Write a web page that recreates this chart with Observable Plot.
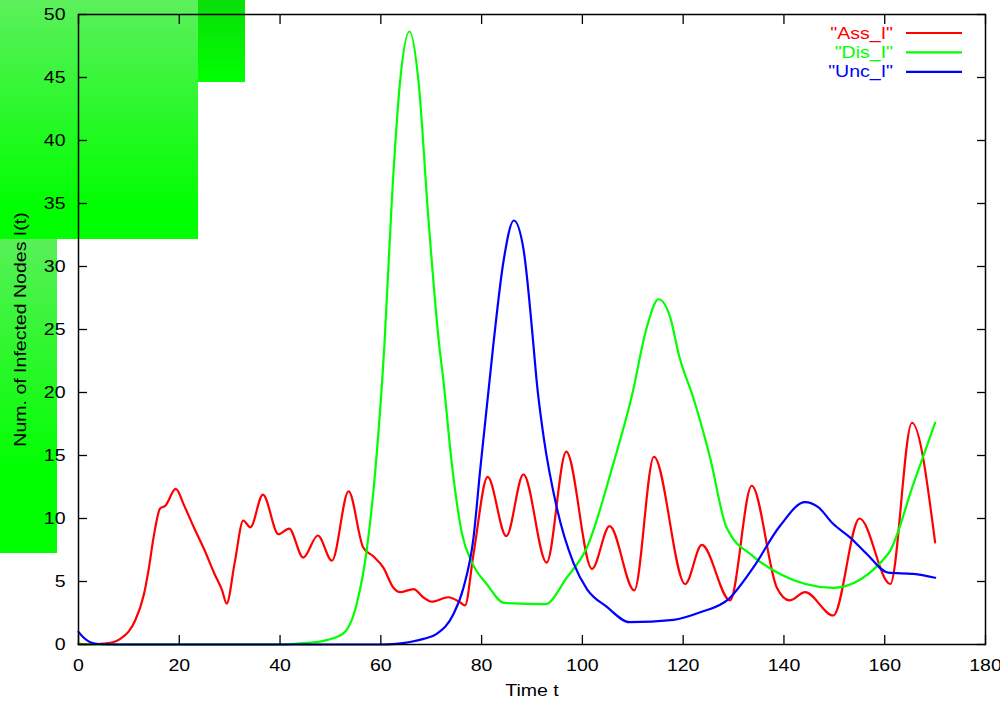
<!DOCTYPE html>
<html>
<head>
<meta charset="utf-8">
<script src="https://cdn.jsdelivr.net/npm/d3@7"></script>
<script src="https://cdn.jsdelivr.net/npm/@observablehq/plot@0.6"></script>
<style>
  html, body { margin: 0; padding: 0; background: white; }
  #wrap { position: relative; width: 1000px; height: 702px; overflow: hidden; font-family: "Liberation Sans", Arial, sans-serif; }
  .blk { position: absolute; }
  #chart { position: absolute; left: 0; top: 0; }
  #legend { position: absolute; left: 0; top: 0; width: 1000px; height: 100px; pointer-events: none; }
</style>
</head>
<body>
<div id="wrap">
  <div class="blk" style="left:0;top:0;width:198px;height:239px;background:linear-gradient(#5cf05c,#00ff00 88%);"></div>
  <div class="blk" style="left:198px;top:0;width:47px;height:82px;background:linear-gradient(#0ade0a,#00ff00);"></div>
  <div class="blk" style="left:0;top:239px;width:57px;height:314px;background:linear-gradient(#58f058,#00ff00 75%);"></div>
  <div id="chart"></div>
  <div id="legend"></div>
</div>
<script>
// ---- data ----
const seriesNames = ['"Ass_I"', '"Dis_I"', '"Unc_I"'];
const seriesColors = ["#ff0000", "#00ff00", "#0000ff"];

const assT = [0,3,5,7,8.3,9.9,11.25,13,13.9,14.9,16.2,17.2,19.3,21,23,25,27,28.5,29.4,31,32.7,34.1,36.6,39.7,41.8,44.6,47.5,50.3,53.6,56.5,58.5,60.5,62.5,63.8,66.5,68.4,70.1,73.4,75.7,76.7,78.4,81.2,84.9,88.3,92.9,96.8,101.9,105.4,110.3,114.2,120.4,123.7,129.3,133.6,138.6,141.1,144.2,149.8,155.0,161.1,165.4,170];
const assI = [0.05,0.02,0.08,0.2,0.45,1.0,1.9,4,5.9,8.5,10.8,11.0,12.35,11,9.2,7.5,5.6,4.3,3.25,6.5,9.84,9.3,11.9,8.75,9.2,6.9,8.65,6.65,12.15,7.7,7.0,6.1,4.5,4.15,4.4,3.75,3.4,3.75,3.35,3.1,7.2,13.3,8.6,13.5,6.5,15.3,6.0,9.4,4.3,14.9,4.8,7.9,3.5,12.6,4.5,3.5,4.15,2.3,10.0,4.8,17.6,8.1];

const disT = [0,40,42.7,46,49.3,52.6,55.2,57.2,58.9,60.7,62.2,63.8,65.7,67.5,69.4,71.6,72.4,74.1,76.1,78.1,81,84.5,92.6,96.9,100.9,106.1,109.8,112.8,115.1,117.4,119.2,122,125.3,128.6,133.9,139.2,149.8,160.7,165.7,170];
const disI = [0,0,0.05,0.15,0.35,0.9,3.2,7.5,13.8,23.7,35.4,44.6,48.65,44.6,34,23.7,21,14.3,8.8,6.5,4.8,3.3,3.2,5.3,7.7,14.3,19.7,25.2,27.4,26,22.9,19.6,14.9,9.3,7.0,5.6,4.5,7.2,12.75,17.6];

const uncT = [0,1,2,3,5,10,60,63,65.8,68.5,71.1,74.4,76.4,78.4,79.7,82.3,84.3,86.4,88.3,90.3,90.9,92.3,94.9,98.2,100.9,104.8,109.4,118.1,123.4,129,133.9,139.2,144.2,146.8,149.7,153.1,156.4,160.7,165.7,170];
const uncI = [1.0,0.55,0.25,0.1,0.02,0,0,0.05,0.2,0.45,0.85,2.4,4.5,8.5,13.8,23.7,30.3,33.65,31.4,23.7,21,16.5,10.9,6.5,4.4,3.0,1.77,1.96,2.56,3.6,6.1,9.4,11.3,10.9,9.6,8.5,7.2,5.7,5.6,5.3];

const xTicks = [0,20,40,60,80,100,120,140,160,180];
const yTicks = [0,5,10,15,20,25,30,35,40,45,50];
const xLabel = "Time t";
const yLabel = "Num. of Infected Nodes I(t)";

// ---- build ----
const series = [
  assT.map((t, i) => ({t, v: assI[i]})),
  disT.map((t, i) => ({t, v: disI[i]})),
  uncT.map((t, i) => ({t, v: uncI[i]}))
];

const blank = () => "";
const chart = Plot.plot({
  width: 1000,
  height: 702,
  marginLeft: 78,
  marginRight: 15,
  marginTop: 14,
  marginBottom: 58,
  x: {domain: [0, 180]},
  y: {domain: [0, 50]},
  style: {fontFamily: "'Liberation Sans', Arial, sans-serif", fontSize: "16px", background: "transparent", overflow: "visible", color: "black"},
  marks: [
    ...series.map((s, i) => Plot.line(s, {x: "t", y: "v", stroke: seriesColors[i], strokeWidth: 2.2, curve: "monotone-x"})),
    Plot.frame({stroke: "black", strokeWidth: 1.5}),
    Plot.axisX(xTicks, {anchor: "bottom", tickSize: -9, tickFormat: blank, label: null, strokeWidth: 1.3}),
    Plot.axisX(xTicks, {anchor: "top", tickSize: -9, tickFormat: blank, label: null, strokeWidth: 1.3}),
    Plot.axisY(yTicks, {anchor: "left", tickSize: -9, tickFormat: blank, label: null, strokeWidth: 1.3}),
    Plot.axisY(yTicks, {anchor: "right", tickSize: -9, tickFormat: blank, label: null, strokeWidth: 1.3}),
    Plot.axisX(xTicks, {anchor: "bottom", tickSize: 0, tickPadding: 15, label: null, fontSize: 16}),
    Plot.axisY(yTicks, {anchor: "left", tickSize: 0, tickPadding: 13, label: null, fontSize: 16}),
    Plot.text([xLabel], {frameAnchor: "bottom", dy: 51, fontSize: 16, fill: "black", textAnchor: "middle"}),
    Plot.text([yLabel], {frameAnchor: "left", dx: -58, rotate: -90, fontSize: 16, fill: "black", textAnchor: "middle"})
  ]
});
document.getElementById("chart").appendChild(chart);

// legend
const ns = "http://www.w3.org/2000/svg";
const lg = document.createElementNS(ns, "svg");
lg.setAttribute("width", 1000);
lg.setAttribute("height", 100);
lg.style.fontFamily = "'Liberation Sans', Arial, sans-serif";
seriesNames.forEach((name, i) => {
  const y = 33 + i * 19.4;
  const tx = document.createElementNS(ns, "text");
  tx.setAttribute("x", 893);
  tx.setAttribute("y", y);
  tx.setAttribute("dy", "0.35em");
  tx.setAttribute("text-anchor", "end");
  tx.setAttribute("font-size", 16);
  tx.setAttribute("fill", seriesColors[i]);
  tx.textContent = name;
  lg.appendChild(tx);
  const ln = document.createElementNS(ns, "line");
  ln.setAttribute("x1", 906); ln.setAttribute("x2", 962);
  ln.setAttribute("y1", y); ln.setAttribute("y2", y);
  ln.setAttribute("stroke", seriesColors[i]);
  ln.setAttribute("stroke-width", 2.2);
  lg.appendChild(ln);
});
document.getElementById("legend").appendChild(lg);

// the reference glyphs are drawn wider than the font's natural width: widen text along its baseline
const STRETCH = 1.22;
document.querySelectorAll("#wrap svg text").forEach(el => {
  if (!el.textContent) return;
  const L = el.getComputedTextLength();
  if (L > 0) {
    el.setAttribute("textLength", (L * STRETCH).toFixed(2));
    el.setAttribute("lengthAdjust", "spacingAndGlyphs");
  }
});
</script>
</body>
</html>
